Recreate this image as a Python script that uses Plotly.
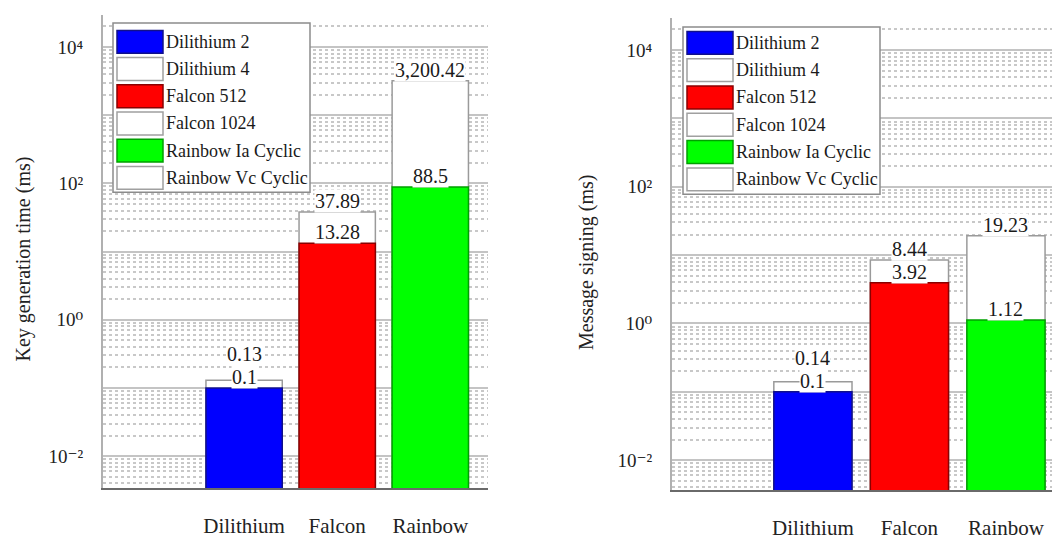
import math
import plotly.graph_objects as go

# ---------------- data ----------------
categories = ["Dilithium", "Falcon", "Rainbow"]
low_names = ["Dilithium 2", "Falcon 512", "Rainbow Ia Cyclic"]
high_names = ["Dilithium 4", "Falcon 1024", "Rainbow Vc Cyclic"]

keygen_low = [0.1, 13.28, 88.5]
keygen_high = [0.13, 37.89, 3200.42]
sign_low = [0.1, 3.92, 1.12]
sign_high = [0.14, 8.44, 19.23]

y_titles = ["Key generation time (ms)", "Message signing (ms)"]
ytick_vals = [1e-2, 1e-1, 1e0, 1e1, 1e2, 1e3, 1e4]
ytick_text = ["10\u207b\u00b2", "", "10\u2070", "", "10\u00b2", "", "10\u2074"]

# ---------------- style ----------------
W, H = 1052, 540
FONT = "Liberation Serif, DejaVu Serif, serif"
fills = ["#0000ff", "#ff0000", "#00ff00"]
edges = ["#10108a", "#8a0000", "#00a000"]


def fx(px):
    return px / W


def fy(py):
    return 1 - py / H


panels = [
    dict(low=keygen_low, high=keygen_high, xd=[103, 488], yd=[490, 15],
         xr=[-1.516, 2.62], yr=[-2.47, 4.47], ppd=68.5, width=0.82,
         title_x=24, legend=dict(x0=113, x1=310, y0=23, y1=193, sx0=117, sx1=163, tx=164, r0=42, dr=27.3)),
    dict(low=sign_low, high=sign_high, xd=[672, 1052], yd=[492, 18],
         xr=[-1.46, 2.477], yr=[-2.44, 4.47], ppd=68.7, width=0.81,
         title_x=586, legend=dict(x0=683, x1=880, y0=27, y1=195, sx0=687, sx1=733, tx=734, r0=43, dr=27.4)),
]

fig = go.Figure()
shapes = []
annotations = []

minor_vals = [k * 10 ** n for n in range(-3, 5) for k in range(2, 10)]

for i, p in enumerate(panels):
    sfx = "" if i == 0 else str(i + 1)
    xa, ya = "x" + sfx, "y" + sfx
    # outline (high) bars behind
    fig.add_trace(go.Bar(
        x=categories, y=p["high"], width=p["width"], xaxis=xa, yaxis=ya,
        marker=dict(color="white", line=dict(color="#9a9a9a", width=1.5)),
        showlegend=False, hoverinfo="skip"))
    # coloured (low) bars in front
    fig.add_trace(go.Bar(
        x=categories, y=p["low"], width=p["width"], xaxis=xa, yaxis=ya,
        marker=dict(color=fills, line=dict(color=edges, width=1.5)),
        showlegend=False, hoverinfo="skip"))

    # value labels
    for c, lo, hi in zip(categories, p["low"], p["high"]):
        annotations.append(dict(
            x=c, y=math.log10(lo), xref=xa, yref=ya, text=f"{lo:,}",
            showarrow=False, yanchor="bottom", bgcolor="white", borderpad=0,
            yshift=-1, font=dict(family=FONT, size=20, color="#1a1a1a")))
        dist = (math.log10(hi) - math.log10(lo)) * p["ppd"]
        shift = max(0, 23 - dist)
        annotations.append(dict(
            x=c, y=math.log10(hi), xref=xa, yref=ya, text=f"{hi:,}",
            showarrow=False, yanchor="bottom", bgcolor="white", borderpad=0,
            yshift=shift - 1, font=dict(family=FONT, size=20, color="#1a1a1a")))

    # y axis title
    annotations.append(dict(
        x=fx(p["title_x"]), y=fy((p["yd"][0] + p["yd"][1]) / 2 + 8), xref="paper", yref="paper",
        xanchor="center", yanchor="middle",
        text=y_titles[i], textangle=-90, showarrow=False,
        font=dict(family=FONT, size=20, color="#222")))

    # axes
    fig.update_layout(**{
        "xaxis" + sfx: dict(
            domain=[fx(p["xd"][0]), fx(p["xd"][1])], range=p["xr"], type="category",
            showgrid=False, showline=True, linecolor="#6a6a6a", linewidth=2,
            ticks="", ticklabelstandoff=18, anchor=ya,
            tickfont=dict(family=FONT, size=21, color="#222")),
        "yaxis" + sfx: dict(
            domain=[fy(p["yd"][0]), fy(p["yd"][1])], range=p["yr"], type="log",
            tickmode="array", tickvals=ytick_vals, ticktext=ytick_text,
            showgrid=True, gridcolor="#c4c4c4", gridwidth=2,
            showline=True, linecolor="#b0b0b0", linewidth=2, anchor=xa,
            ticks="", ticklabelstandoff=14, zeroline=False,
            tickfont=dict(family=FONT, size=19, color="#222"),
            minor=dict(tickmode="array", tickvals=minor_vals, showgrid=True,
                       gridcolor="#c8c8c8", griddash="dot", gridwidth=1.5)),
    })

    # custom legend
    L = p["legend"]
    shapes.append(dict(type="rect", xref="paper", yref="paper",
                       x0=fx(L["x0"]), x1=fx(L["x1"]), y0=fy(L["y1"]), y1=fy(L["y0"]),
                       fillcolor="white", line=dict(color="#8c8c8c", width=1.5), layer="above"))
    names, sw_fill, sw_edge = [], [], []
    for k in range(3):
        names += [low_names[k], high_names[k]]
        sw_fill += [fills[k], "white"]
        sw_edge += [edges[k], "#a0a0a0"]
    for r, (nm, fc, ec) in enumerate(zip(names, sw_fill, sw_edge)):
        cy = L["r0"] + r * L["dr"]
        shapes.append(dict(type="rect", xref="paper", yref="paper",
                           x0=fx(L["sx0"]), x1=fx(L["sx1"]), y0=fy(cy + 11.5), y1=fy(cy - 11.5),
                           fillcolor=fc, line=dict(color=ec, width=1.5), layer="above"))
        annotations.append(dict(x=fx(L["tx"]), y=fy(cy), xref="paper", yref="paper",
                                text=nm, showarrow=False, xanchor="left", yanchor="middle",
                                font=dict(family=FONT, size=18, color="#1a1a1a")))

fig.update_layout(
    width=W, height=H, margin=dict(l=0, r=0, t=0, b=0),
    paper_bgcolor="white", plot_bgcolor="white",
    barmode="overlay", showlegend=False,
    shapes=shapes, annotations=annotations,
)

fig.write_html("out.html")
